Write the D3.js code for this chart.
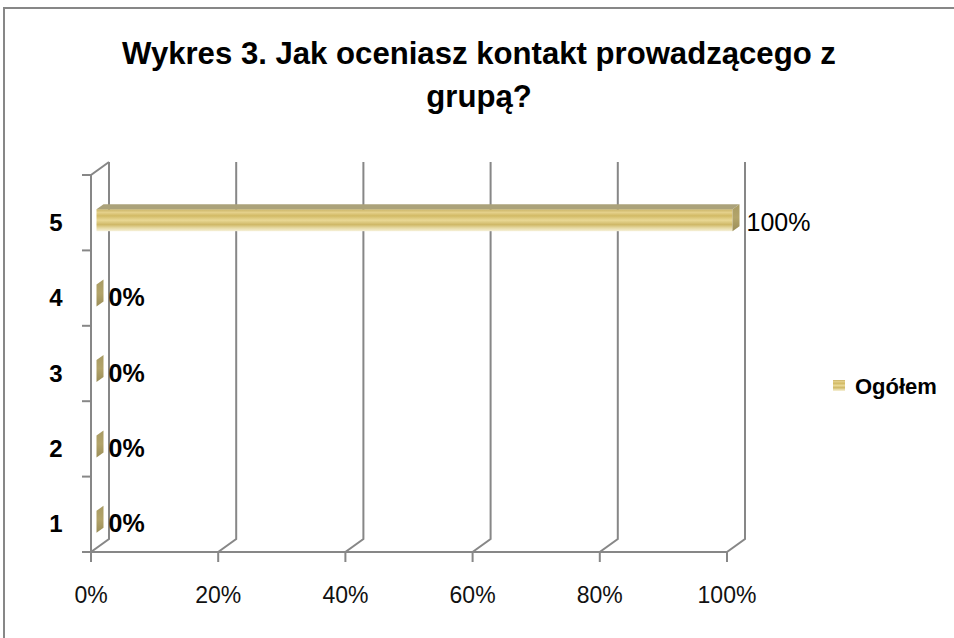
<!DOCTYPE html>
<html><head><meta charset="utf-8">
<script src="https://cdn.jsdelivr.net/npm/d3@7/dist/d3.min.js"></script>
<style>body{margin:0;background:#fff}svg{display:block}</style>
</head><body>
<script>
const titleLines = ["Wykres 3. Jak oceniasz kontakt prowadzącego z", "grupą?"];
const categories = ["1", "2", "3", "4", "5"];
const values = [0, 0, 0, 0, 100];
const valueLabels = ["0%", "0%", "0%", "0%", "100%"];
const tickValues = [0, 20, 40, 60, 80, 100];
const tickLabels = ["0%", "20%", "40%", "60%", "80%", "100%"];
const seriesName = "Ogółem";

const W = 954, H = 638;
const font = "Liberation Sans, Arial, sans-serif";
const svg = d3.select("body").append("svg").attr("width", W).attr("height", H);
const gray = "#878787";

// outer border
svg.append("path").attr("d", `M4,${H} L4,8 L${W},8`).attr("fill", "none").attr("stroke", gray).attr("stroke-width", 2);

// title
const title = svg.append("g");
let fsT = 27;
titleLines.forEach((t, i) => {
  const tx = title.append("text").attr("x", 479).attr("y", [64, 107][i])
    .attr("text-anchor", "middle").attr("font-family", font).attr("font-weight", "bold")
    .attr("font-size", 27).attr("fill", "#000").text(t);
  if (i === 0) fsT = 27 * 714 / tx.node().getComputedTextLength();
});
title.selectAll("text").attr("font-size", fsT);

// scales
const x = d3.scaleLinear().domain([0, 100]).range([91, 727]);
const y = d3.scaleBand().domain(categories.slice().reverse()).range([175, 552]).padding(0);
const DX = 18, DY = -13;
const y0 = 175, y1 = 552;

const grid = svg.append("g").attr("fill", "none").attr("stroke", gray).attr("stroke-width", 2);
tickValues.forEach(v => {
  const fx = x(v);
  grid.append("path").attr("d", `M${fx},${y1 + 10} L${fx},${y1} L${fx + DX},${y1 + DY} L${fx + DX},${y0 + DY}`);
});
grid.append("line").attr("x1", x(0)).attr("x2", x(100)).attr("y1", y1).attr("y2", y1);
grid.append("path").attr("d", `M${x(0)},${y1} L${x(0)},${y0} L${x(0) + DX},${y0 + DY}`);
const bounds = [y0].concat(y.domain().map(c => y(c) + y.bandwidth()));
bounds.forEach(b => grid.append("line").attr("x1", x(0) - 9).attr("x2", x(0)).attr("y1", b).attr("y2", b));

// gradients
const defs = svg.append("defs");
const grad = defs.append("linearGradient").attr("id", "barG").attr("x1", 0).attr("x2", 0).attr("y1", 0).attr("y2", 1);
[[0, "#C9B366"], [0.15, "#E4D08A"], [0.3, "#D2BA65"], [0.5, "#E9D895"], [0.7, "#CFB867"], [0.85, "#E6D9A2"], [1, "#F6F0D8"]]
  .forEach(([o, c]) => grad.append("stop").attr("offset", o).attr("stop-color", c));
const gradS = defs.append("linearGradient").attr("id", "sideG").attr("x1", 0).attr("x2", 0).attr("y1", 0).attr("y2", 1);
[[0, "#A89B63"], [0.5, "#B3A46A"], [1, "#9A8D58"]].forEach(([o, c]) => gradS.append("stop").attr("offset", o).attr("stop-color", c));

// bars
const bdx = 7, bdy = -5, off = 5.5, bh = 22;
const bars = svg.append("g");
categories.forEach((c, i) => {
  const v = values[i];
  const cy = y(c) + y.bandwidth() / 2 + 7.5;
  const top = cy - bh / 2, bot = cy + bh / 2;
  const xl = x(0) + off, xr = x(v) + off;
  if (xr - xl > 0.5) {
    bars.append("rect").attr("x", xl).attr("y", top).attr("width", xr - xl).attr("height", bh).attr("fill", "url(#barG)");
    bars.append("path").attr("d", `M${xl},${top} L${xl + bdx},${top + bdy} L${xr + bdx},${top + bdy} L${xr},${top} Z`).attr("fill", "#ABA27A");
  }
  bars.append("path").attr("d", `M${xr},${top} L${xr + bdx},${top + bdy} L${xr + bdx},${bot + bdy} L${xr},${bot} Z`).attr("fill", "url(#sideG)");
  const bold = v === 0;
  svg.append("text").attr("x", xr + bdx + (bold ? 5 : 7)).attr("y", cy + 10.5)
    .attr("font-family", font).attr("font-weight", bold ? "bold" : "normal").attr("font-size", bold ? 25 : 25).attr("fill", "#000")
    .text(valueLabels[i]);
  svg.append("text").attr("x", 56).attr("y", y(c) + y.bandwidth() / 2 + 18).attr("text-anchor", "middle")
    .attr("font-family", font).attr("font-weight", "bold").attr("font-size", 24).attr("fill", "#000").text(c);
});

// x tick labels
tickValues.forEach((v, i) => {
  svg.append("text").attr("x", x(v)).attr("y", 603).attr("text-anchor", "middle")
    .attr("font-family", font).attr("font-size", 23).attr("fill", "#111").text(tickLabels[i]);
});

// legend
svg.append("rect").attr("x", 833).attr("y", 380).attr("width", 12).attr("height", 11).attr("fill", "url(#barG)");
svg.append("text").attr("x", 855).attr("y", 394).attr("font-family", font).attr("font-weight", "bold")
  .attr("font-size", 22).attr("fill", "#000").text(seriesName);
</script>
</body></html>
